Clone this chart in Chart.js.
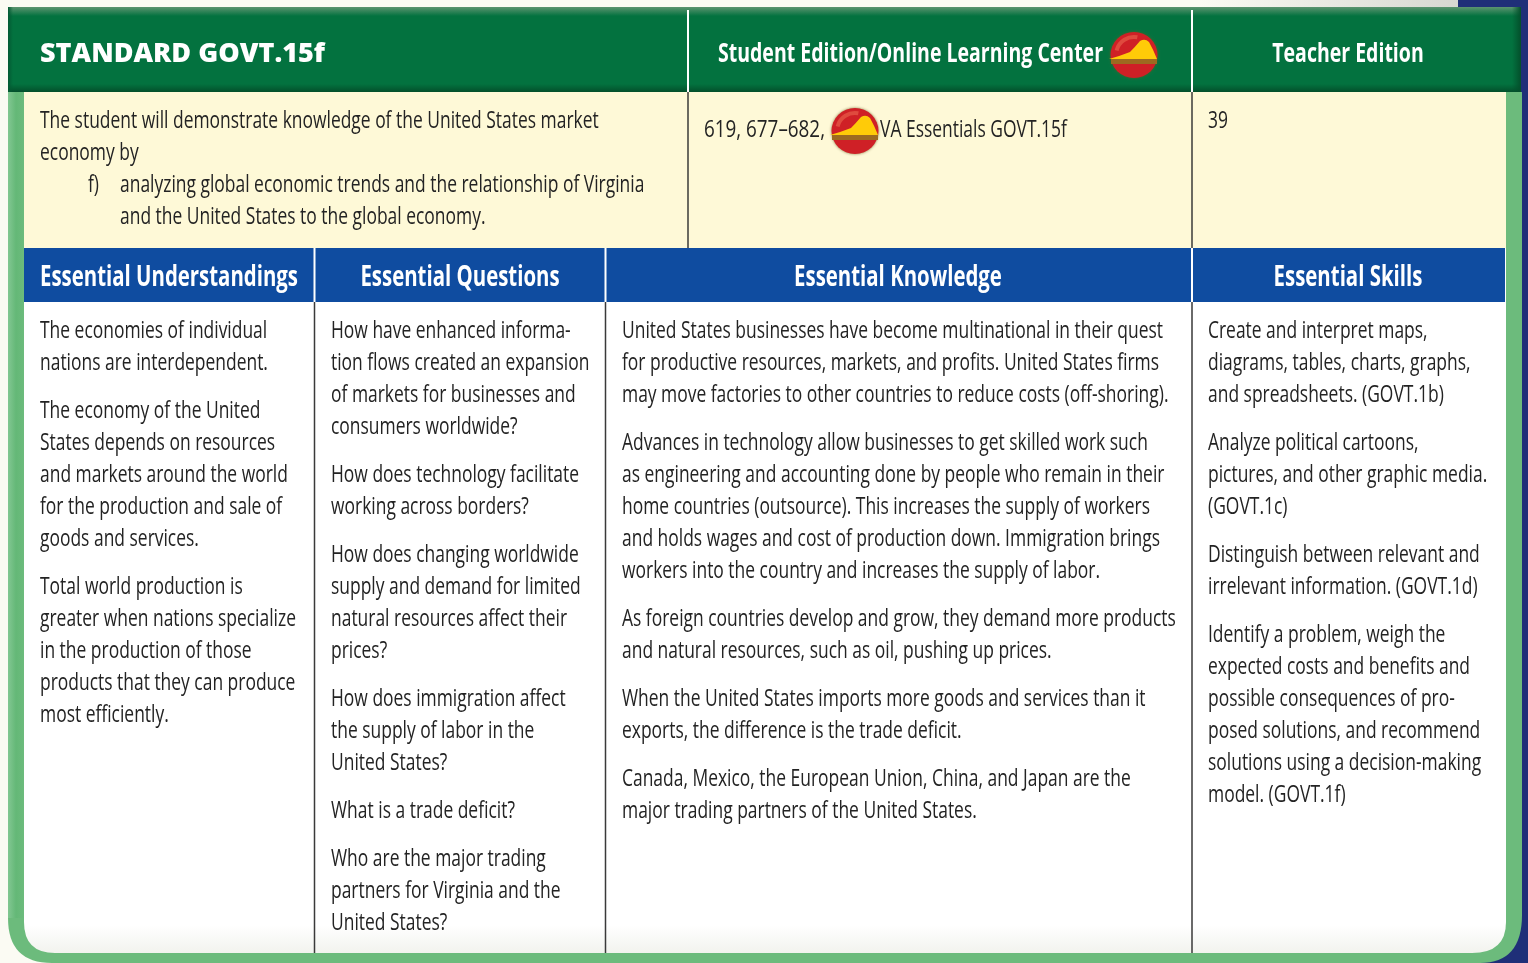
<!DOCTYPE html>
<html><head><meta charset="utf-8">
<style>html,body{margin:0;padding:0;background:#fbfbf3;overflow:hidden}canvas{display:block}</style>
<script src="https://cdn.jsdelivr.net/npm/chart.js@4"></script></head>
<body><canvas id="c" width="1528" height="963"></canvas>
<script>
const standardTitle = "STANDARD GOVT.15f";
const resourceHeaders = ["Student Edition/Online Learning Center", "Teacher Edition"];
const standardLines = [
  "The student will demonstrate knowledge of the United States market",
  "economy by"];
const standardItemMark = "f)";
const standardItemLines = [
  "analyzing global economic trends and the relationship of Virginia",
  "and the United States to the global economy."];
const studentRefBefore = "619, 677–682,";
const studentRefAfter = "VA Essentials GOVT.15f";
const teacherRef = "39";
const columnHeaders = ["Essential Understandings", "Essential Questions", "Essential Knowledge", "Essential Skills"];
const understandings = [
  ["The economies of individual", "nations are interdependent."],
  ["The economy of the United", "States depends on resources", "and markets around the world", "for the production and sale of", "goods and services."],
  ["Total world production is", "greater when nations specialize", "in the production of those", "products that they can produce", "most efficiently."]];
const questions = [
  ["How have enhanced informa-", "tion flows created an expansion", "of markets for businesses and", "consumers worldwide?"],
  ["How does technology facilitate", "working across borders?"],
  ["How does changing worldwide", "supply and demand for limited", "natural resources affect their", "prices?"],
  ["How does immigration affect", "the supply of labor in the", "United States?"],
  ["What is a trade deficit?"],
  ["Who are the major trading", "partners for Virginia and the", "United States?"]];
const knowledge = [
  ["United States businesses have become multinational in their quest", "for productive resources, markets, and profits. United States firms", "may move factories to other countries to reduce costs (off-shoring)."],
  ["Advances in technology allow businesses to get skilled work such", "as engineering and accounting done by people who remain in their", "home countries (outsource). This increases the supply of workers", "and holds wages and cost of production down. Immigration brings", "workers into the country and increases the supply of labor."],
  ["As foreign countries develop and grow, they demand more products", "and natural resources, such as oil, pushing up prices."],
  ["When the United States imports more goods and services than it", "exports, the difference is the trade deficit."],
  ["Canada, Mexico, the European Union, China, and Japan are the", "major trading partners of the United States."]];
const skills = [
  ["Create and interpret maps,", "diagrams, tables, charts, graphs,", "and spreadsheets. (GOVT.1b)"],
  ["Analyze political cartoons,", "pictures, and other graphic media.", "(GOVT.1c)"],
  ["Distinguish between relevant and", "irrelevant information. (GOVT.1d)"],
  ["Identify a problem, weigh the", "expected costs and benefits and", "possible consequences of pro-", "posed solutions, and recommend", "solutions using a decision-making", "model. (GOVT.1f)"]];

const FONT = '"Open Sans"';
const BODY = {font:`500 24px ${FONT}`, color:'#232323', refText:knowledge[0][0], refWidth:541};
const PAGES = {font:`500 24px ${FONT}`, color:'#232323', refText:studentRefBefore, refWidth:121};
const HEAD = {font:`700 28px ${FONT}`, color:'#ffffff', refText:columnHeaders[0], refWidth:258};
const RES = {font:`700 27px ${FONT}`, color:'#ffffff', refText:resourceHeaders[0], refWidth:385};
const TITLE = {font:`800 27px ${FONT}`, color:'#ffffff', refText:standardTitle, refWidth:285};

const tablePlugin = {
  id:'table',
  beforeDraw(chart){
    const g = chart.ctx, X = v=>chart.scales.x.getPixelForValue(v), Y = v=>chart.scales.y.getPixelForValue(v);
    const rect=(x0,y0,x1,y1,c)=>{g.fillStyle=c;g.fillRect(X(x0),Y(y0),X(x1)-X(x0),Y(y1)-Y(y0));};
    const scaleOf=s=>{g.font=s.font;return s.refWidth/g.measureText(s.refText).width;};
    const text=(s,str,x,y,center)=>{
      const k=scaleOf(s);g.save();g.font=s.font;g.fillStyle=s.color;g.textBaseline='alphabetic';g.textAlign='left';
      const w=g.measureText(str).width*k;
      g.translate(X(center?x-w/2:x),Y(y));g.scale(k,1);g.fillText(str,0,0);g.restore();
    };
    const vline=(x,y0,y1,c,w=2)=>rect(x-w/2,y0,x+w/2,y1,c);

    // page surroundings
    rect(0,0,1528,963,'#fbfbf3');
    const top=g.createLinearGradient(X(1200),0,X(1458),0);
    top.addColorStop(0,'#fbfbf3');top.addColorStop(1,'#d8d8d2');
    g.fillStyle=top;g.fillRect(X(1200),Y(0),X(1458)-X(1200),Y(8));
    rect(1458,0,1528,963,'#1f2f78');
    // rounded green frame
    const frame=g.createLinearGradient(X(8),0,X(24),0);
    frame.addColorStop(0,'#82c792');frame.addColorStop(.5,'#64b877');frame.addColorStop(1,'#6cbb7c');
    g.fillStyle='#6cbb7c';g.beginPath();
    g.moveTo(X(8),Y(92));g.lineTo(X(1522),Y(92));g.lineTo(X(1522),Y(915));
    g.quadraticCurveTo(X(1522),Y(963),X(1480),Y(963));
    g.lineTo(X(52),Y(963));g.quadraticCurveTo(X(8),Y(963),X(8),Y(918));g.closePath();g.fill();
    rect(8,92,24,918,frame);
    // white body
    const body=g.createLinearGradient(0,Y(925),0,Y(953));
    body.addColorStop(0,'#ffffff');body.addColorStop(1,'#f2f3ee');
    g.fillStyle=body;g.beginPath();
    g.moveTo(X(24),Y(92));g.lineTo(X(1506),Y(92));g.lineTo(X(1506),Y(922));
    g.quadraticCurveTo(X(1506),Y(953),X(1472),Y(953));
    g.lineTo(X(55),Y(953));g.quadraticCurveTo(X(24),Y(953),X(24),Y(922));g.closePath();g.fill();
    // green header
    rect(8,7,1521,92,'#03723f');
    const hi=g.createLinearGradient(0,Y(7),0,Y(16));
    hi.addColorStop(0,'#5c9470');hi.addColorStop(1,'#03723f');g.fillStyle=hi;g.fillRect(X(8),Y(7),X(1513),Y(9));
    const lo=g.createLinearGradient(0,Y(84),0,Y(92));
    lo.addColorStop(0,'#03723f');lo.addColorStop(1,'#034f2b');g.fillStyle=lo;g.fillRect(X(8),Y(84),X(1513),Y(8));
    const re=g.createLinearGradient(X(1512),0,X(1521),0);
    re.addColorStop(0,'rgba(3,79,43,0)');re.addColorStop(1,'#034f2b');g.fillStyle=re;g.fillRect(X(1512),Y(7),X(9),Y(85));
    const le=g.createLinearGradient(X(8),0,X(13),0);
    le.addColorStop(0,'#035a33');le.addColorStop(1,'rgba(3,90,51,0)');g.fillStyle=le;g.fillRect(X(8),Y(7),X(5),Y(85));
    // cream and blue bands
    rect(24,92,1506,248,'#fef9d7');
    rect(24,248,1505,302,'#0f4ca0');
    // grid lines
    [688,1192].forEach(x=>{vline(x,10,92,'#ffffff');vline(x,92,248,'#6b6a60');});
    [314.5,605.5,1192].forEach(x=>{vline(x,248,302,'#ffffff');vline(x,302,953,'#3a3a3a',1.5);});

    // resource icons
    const icon=(cx,cy)=>{
      g.save();g.translate(X(cx),Y(cy));
      g.save();g.shadowColor='rgba(110,90,30,.8)';g.shadowBlur=3;
      g.fillStyle='#cf2026';g.beginPath();g.ellipse(0,0,23.5,23,0,0,7);g.fill();g.restore();
      g.strokeStyle='#df4a3e';g.lineWidth=4;g.beginPath();g.ellipse(0,0,18,18,0,3.4,4.9);g.stroke();
      g.fillStyle='#9d6a20';g.fillRect(-23,4,46,5);
      g.fillStyle='#ffcb08';g.beginPath();g.moveTo(-25,4);g.lineTo(23,4);
      g.quadraticCurveTo(19,-6,15,-13);g.quadraticCurveTo(11,-17,6,-14);
      g.quadraticCurveTo(1,-8,-4,-3);g.quadraticCurveTo(-14,1,-25,4);g.closePath();g.fill();
      g.restore();
    };
    icon(1134,55);icon(855,131);

    // header texts
    text(TITLE,standardTitle,40,62);
    text(RES,resourceHeaders[0],718,62);
    text(RES,resourceHeaders[1],1348,62,true);
    [169,460,898,1348].forEach((x,i)=>text(HEAD,columnHeaders[i],x,286,true));

    // standard band
    standardLines.forEach((l,i)=>text(BODY,l,40,128+32*i));
    text(BODY,standardItemMark,88,192);
    standardItemLines.forEach((l,i)=>text(BODY,l,120,192+32*i));
    text(PAGES,studentRefBefore,704,137);
    text(BODY,studentRefAfter,880,137);
    text(BODY,teacherRef,1208,128);

    // essential columns
    [[understandings,40],[questions,331],[knowledge,622],[skills,1208]].forEach(([paras,x])=>{
      let y=338;
      paras.forEach(p=>{p.forEach(l=>{text(BODY,l,x,y);y+=32;});y+=16;});
    });
  }
};

new Chart(document.getElementById('c'),{
  type:'scatter',
  data:{datasets:[{data:[]}]},
  options:{responsive:false,animation:false,layout:{padding:0},
    plugins:{legend:{display:false},tooltip:{enabled:false}},
    scales:{
      x:{type:'linear',min:0,max:1528,display:false},
      y:{type:'linear',min:0,max:963,reverse:true,display:false}}},
  plugins:[tablePlugin]
});
</script></body></html>
